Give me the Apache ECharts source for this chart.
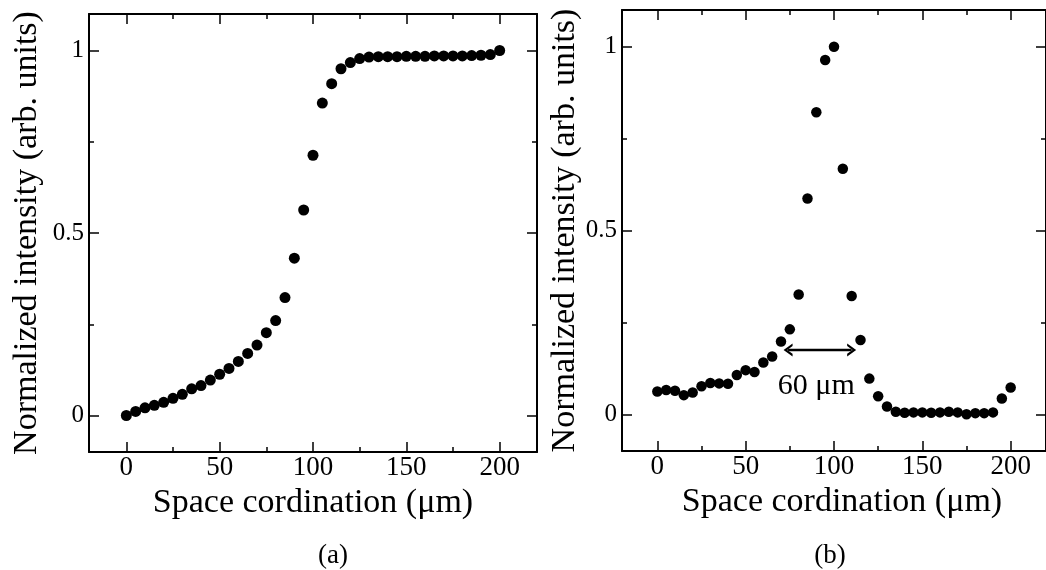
<!DOCTYPE html>
<html><head><meta charset="utf-8">
<script src="https://cdn.jsdelivr.net/npm/echarts@6/dist/echarts.min.js"></script>
<style>html,body{margin:0;padding:0;background:#fff}#c{width:1046px;height:570px}</style>
</head><body><div id="c"></div>
<script>
// ---- data ----
const xValues = [0,5,10,15,20,25,30,35,40,45,50,55,60,65,70,75,80,85,90,95,100,105,110,115,120,125,130,135,140,145,150,155,160,165,170,175,180,185,190,195,200];
const stepProfile = [0.000,0.011,0.021,0.028,0.036,0.047,0.058,0.073,0.082,0.097,0.113,0.129,0.148,0.170,0.193,0.227,0.260,0.323,0.431,0.563,0.713,0.856,0.909,0.950,0.967,0.978,0.982,0.983,0.983,0.983,0.984,0.984,0.984,0.985,0.985,0.985,0.985,0.986,0.987,0.989,1.000];
const peakProfile = [0.062,0.066,0.064,0.052,0.059,0.076,0.085,0.084,0.083,0.107,0.120,0.115,0.141,0.157,0.198,0.231,0.326,0.587,0.822,0.964,1.000,0.668,0.322,0.202,0.097,0.049,0.021,0.007,0.004,0.005,0.005,0.004,0.005,0.007,0.005,0.000,0.003,0.003,0.005,0.043,0.073];
const xMajorTicks = [0,50,100,150,200];
const xMinorTicks = [25,75,125,175];
const yMajorTicks = [0,0.5,1];
const yMinorTicks = [0.25,0.75];
const arrowStart = [74,0.175];
const arrowEnd = [110,0.175];
const arrowLabelPos = [90,0.076];
const arrowLabel = '60 μm';
const xTitle = 'Space cordination (μm)';
const yTitle = 'Normalized intensity (arb. units)';
const panelLabels = ['(a)','(b)'];

// ---- styling ----
const FONT = '"Liberation Serif","Times New Roman",serif';
const X_MIN = -20, X_MAX = 220, Y_MIN = -0.1, Y_MAX = 1.1;
const tickStyle = {color:'#000', width:1.5};

function xAxesFor(g, nameGap, namePad) {
  const base = {type:'value', gridIndex:g, min:X_MIN, max:X_MAX, splitLine:{show:false}};
  const line = {show:true, onZero:false, lineStyle:{color:'#000', width:2}};
  const noLine = {show:false, onZero:false};
  return [
    Object.assign({}, base, {position:'bottom', axisLine:line,
      axisTick:{show:true, inside:true, length:10, customValues:xMajorTicks, lineStyle:tickStyle},
      axisLabel:{show:true, customValues:xMajorTicks, margin:2, fontSize:27, color:'#000', fontFamily:FONT},
      name:xTitle, nameLocation:'middle', nameGap:nameGap,
      nameTextStyle:{fontSize:34, color:'#000', fontFamily:FONT, padding:namePad}}),
    Object.assign({}, base, {position:'bottom', axisLine:noLine,
      axisTick:{show:true, inside:true, length:5, customValues:xMinorTicks, lineStyle:tickStyle},
      axisLabel:{show:false}}),
    Object.assign({}, base, {position:'top', axisLine:line,
      axisTick:{show:true, inside:true, length:10, customValues:xMajorTicks, lineStyle:tickStyle},
      axisLabel:{show:false}}),
    Object.assign({}, base, {position:'top', axisLine:noLine,
      axisTick:{show:true, inside:true, length:5, customValues:xMinorTicks, lineStyle:tickStyle},
      axisLabel:{show:false}})
  ];
}
function yAxesFor(g, nameGap) {
  const base = {type:'value', gridIndex:g, min:Y_MIN, max:Y_MAX, splitLine:{show:false}};
  const line = {show:true, onZero:false, lineStyle:{color:'#000', width:2}};
  const noLine = {show:false, onZero:false};
  return [
    Object.assign({}, base, {position:'left', axisLine:line,
      axisTick:{show:true, inside:true, length:10, customValues:yMajorTicks, lineStyle:tickStyle},
      axisLabel:{show:true, customValues:yMajorTicks, margin:5, fontSize:25, color:'#000', fontFamily:FONT},
      name:yTitle, nameLocation:'middle', nameGap:nameGap,
      nameTextStyle:{fontSize:34, color:'#000', fontFamily:FONT}}),
    Object.assign({}, base, {position:'left', axisLine:noLine,
      axisTick:{show:true, inside:true, length:5, customValues:yMinorTicks, lineStyle:tickStyle},
      axisLabel:{show:false}}),
    Object.assign({}, base, {position:'right', axisLine:line,
      axisTick:{show:true, inside:true, length:10, customValues:yMajorTicks, lineStyle:tickStyle},
      axisLabel:{show:false}}),
    Object.assign({}, base, {position:'right', axisLine:noLine,
      axisTick:{show:true, inside:true, length:5, customValues:yMinorTicks, lineStyle:tickStyle},
      axisLabel:{show:false}})
  ];
}

const chevron = 'path://M0,8 L6,0 L12,8 L9.6,8 L6,3.2 L2.4,8 Z';

const option = {
  animation:false,
  backgroundColor:'#fff',
  grid:[
    {left:89, top:14, width:448, height:438},
    {left:622, top:10, width:429, height:441}
  ],
  xAxis: xAxesFor(0, 26, 0).concat(xAxesFor(1, 26, [0,0,0,16])),
  yAxis: yAxesFor(0, 45).concat(yAxesFor(1, 39)),
  series:[
    {type:'scatter', xAxisIndex:0, yAxisIndex:0, symbol:'circle', symbolSize:11,
     itemStyle:{color:'#000', opacity:1}, silent:true,
     data: xValues.map((x,i)=>[x, stepProfile[i]])},
    {type:'scatter', xAxisIndex:4, yAxisIndex:4, symbol:'circle', symbolSize:10.5,
     itemStyle:{color:'#000', opacity:1}, silent:true,
     data: xValues.map((x,i)=>[x, peakProfile[i]]),
     markLine:{silent:true, symbol:[chevron, chevron], symbolSize:[13,9],
       lineStyle:{color:'#000', width:2.4, type:'solid'}, label:{show:false},
       data:[[{coord:arrowStart},{coord:arrowEnd}]]},
     markPoint:{silent:true, symbol:'rect', symbolSize:1, itemStyle:{color:'rgba(0,0,0,0)'},
       label:{show:true, position:'inside', formatter:arrowLabel, fontSize:30, color:'#000', fontFamily:FONT},
       data:[{coord:arrowLabelPos}]}}
  ],
  graphic:[
    {type:'text', x:333, y:556, style:{text:panelLabels[0], font:'27px '+FONT, fill:'#000', align:'center', verticalAlign:'middle'}},
    {type:'text', x:830, y:556, style:{text:panelLabels[1], font:'27px '+FONT, fill:'#000', align:'center', verticalAlign:'middle'}}
  ]
};
const chart = echarts.init(document.getElementById('c'), null, {renderer:'canvas'});
chart.setOption(option);
</script></body></html>
